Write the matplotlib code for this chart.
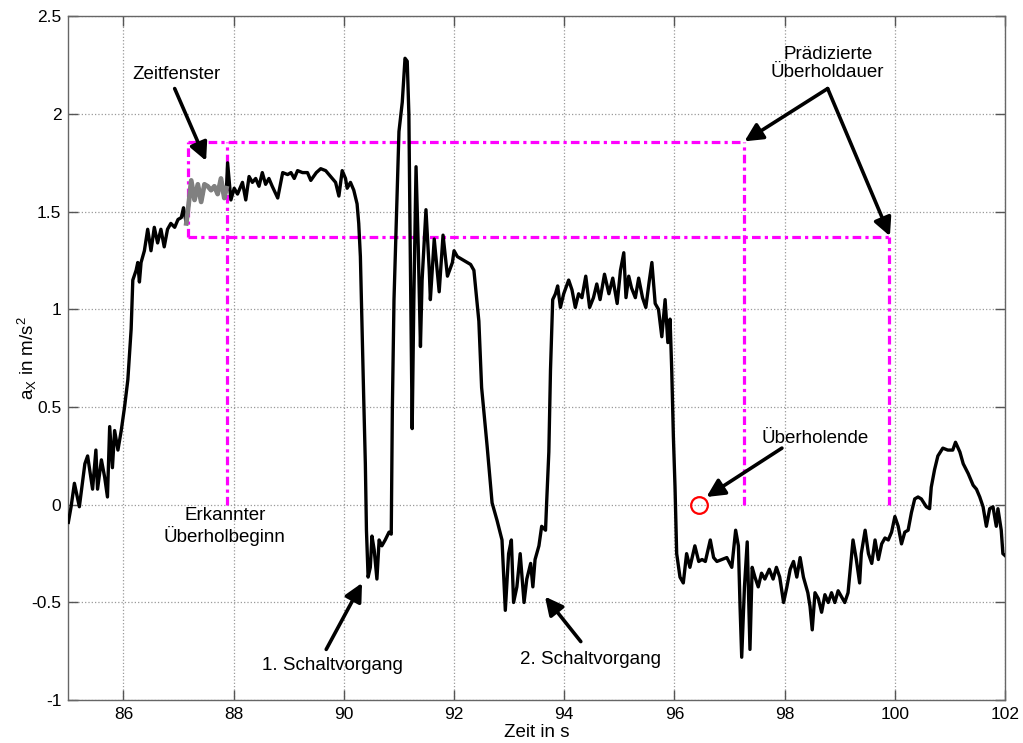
import numpy as np
import matplotlib
matplotlib.use("Agg")
import matplotlib.pyplot as plt

plt.rcParams['font.family'] = ['Liberation Sans', 'DejaVu Sans']
plt.rcParams['mathtext.default'] = 'regular'

# Laengsbeschleunigung
zeit = [
    85.00, 85.05, 85.11, 85.20, 85.30, 85.35, 85.44, 85.50, 85.53, 85.60,
    85.66, 85.71, 85.75, 85.80, 85.84, 85.90, 85.96, 86.02, 86.08, 86.14,
    86.17, 86.23, 86.26, 86.29, 86.32, 86.38, 86.44, 86.50, 86.56, 86.62,
    86.68, 86.74, 86.80, 86.86, 86.93, 86.99, 87.05, 87.09, 87.14,
    87.18, 87.23, 87.29, 87.35, 87.41, 87.47, 87.53, 87.59, 87.65, 87.71,
    87.77, 87.83, 87.87,
    87.89, 87.95, 88.01, 88.07, 88.16, 88.22, 88.28, 88.34, 88.40, 88.46,
    88.52, 88.58, 88.64, 88.70, 88.80, 88.89, 88.98, 89.04, 89.10, 89.16,
    89.25, 89.34, 89.40, 89.50, 89.58, 89.67, 89.76, 89.85, 89.91, 89.97,
    90.03, 90.06, 90.12, 90.18, 90.24, 90.27, 90.30, 90.33, 90.36, 90.39,
    90.41, 90.44, 90.48, 90.51, 90.55, 90.60, 90.64, 90.69, 90.75, 90.82,
    90.86, 90.88, 90.91, 90.94, 91.00, 91.06, 91.11, 91.15, 91.18, 91.20,
    91.24, 91.27, 91.31, 91.35, 91.39, 91.42, 91.49, 91.55, 91.57, 91.64,
    91.73, 91.80, 91.88, 91.97, 92.00, 92.06, 92.12, 92.18, 92.24, 92.30,
    92.36, 92.45, 92.50, 92.60, 92.69, 92.78, 92.87, 92.93, 92.99, 93.04,
    93.08, 93.14, 93.20, 93.27, 93.32, 93.39, 93.43, 93.47, 93.54, 93.59,
    93.66, 93.68, 93.72, 93.75, 93.79, 93.84, 93.88, 93.93, 93.99, 94.08,
    94.14, 94.20, 94.26, 94.32, 94.39, 94.46, 94.53, 94.59, 94.65, 94.73,
    94.81, 94.88, 94.96, 95.02, 95.08, 95.12, 95.17, 95.22, 95.29, 95.35,
    95.42, 95.48, 95.54, 95.59, 95.65, 95.71, 95.77, 95.83, 95.88, 95.92,
    95.95, 95.98, 96.01, 96.04, 96.10, 96.16, 96.22, 96.28, 96.37, 96.44,
    96.50, 96.56, 96.65, 96.71, 96.77, 96.86, 96.95, 97.04, 97.11, 97.16,
    97.19, 97.22, 97.27, 97.32, 97.37, 97.41, 97.46, 97.52, 97.58, 97.64,
    97.72, 97.79, 97.85, 97.91, 97.98, 98.04, 98.10, 98.16, 98.22, 98.28,
    98.34, 98.42, 98.46, 98.50, 98.55, 98.61, 98.67, 98.73, 98.79, 98.85,
    98.91, 98.97, 99.03, 99.09, 99.15, 99.24, 99.30, 99.36, 99.39, 99.46,
    99.52, 99.58, 99.64, 99.70, 99.76, 99.82, 99.88, 99.94, 100.00, 100.06,
    100.12, 100.18, 100.24, 100.30, 100.36, 100.42, 100.48, 100.57, 100.63, 100.66,
    100.72, 100.78, 100.87, 100.96, 101.05, 101.10, 101.18, 101.24, 101.33, 101.42,
    101.48, 101.54, 101.60, 101.66, 101.72, 101.78, 101.84, 101.87, 101.93, 101.96,
    102.00,
]
a_x = [
    -0.09, -0.01, 0.11, -0.01, 0.21, 0.25, 0.08, 0.28, 0.08, 0.23,
    0.14, 0.04, 0.40, 0.19, 0.38, 0.28, 0.38, 0.50, 0.64, 0.90,
    1.15, 1.20, 1.24, 1.14, 1.24, 1.30, 1.41, 1.30, 1.42, 1.34,
    1.41, 1.32, 1.41, 1.44, 1.42, 1.46, 1.47, 1.52, 1.44,
    1.53, 1.66, 1.56, 1.64, 1.55, 1.64, 1.63, 1.61, 1.63, 1.59,
    1.67, 1.57, 1.62,
    1.75, 1.56, 1.62, 1.59, 1.65, 1.56, 1.68, 1.65, 1.67, 1.63,
    1.70, 1.64, 1.67, 1.63, 1.57, 1.70, 1.69, 1.70, 1.67, 1.71,
    1.70, 1.70, 1.66, 1.70, 1.72, 1.71, 1.68, 1.65, 1.58, 1.71,
    1.67, 1.62, 1.65, 1.61, 1.54, 1.44, 1.27, 0.90, 0.55, 0.21,
    -0.13, -0.37, -0.32, -0.16, -0.23, -0.38, -0.18, -0.21, -0.18, -0.14,
    -0.15, 0.49, 1.05, 1.34, 1.91, 2.06, 2.285, 2.27, 2.00, 1.43,
    0.39, 1.05, 1.73, 1.32, 0.81, 1.15, 1.51, 1.20, 1.05, 1.36,
    1.09, 1.38, 1.17, 1.24, 1.30, 1.27, 1.26, 1.25, 1.24, 1.23,
    1.20, 0.94, 0.60, 0.30, 0.01, -0.08, -0.18, -0.54, -0.25, -0.18,
    -0.50, -0.42, -0.25, -0.50, -0.38, -0.30, -0.42, -0.28, -0.21, -0.11,
    -0.13, 0.01, 0.27, 0.69, 1.05, 1.08, 1.12, 1.01, 1.08, 1.15,
    1.10, 1.01, 1.08, 1.06, 1.17, 1.01, 1.06, 1.13, 1.05, 1.18,
    1.08, 1.16, 1.03, 1.20, 1.29, 1.06, 1.17, 1.11, 1.06, 1.16,
    1.06, 1.01, 1.14, 1.24, 1.03, 1.00, 0.86, 1.05, 0.83, 0.95,
    0.69, 0.35, 0.09, -0.25, -0.37, -0.40, -0.25, -0.32, -0.21, -0.29,
    -0.28, -0.29, -0.18, -0.27, -0.29, -0.28, -0.27, -0.32, -0.13, -0.21,
    -0.52, -0.78, -0.42, -0.19, -0.74, -0.32, -0.37, -0.42, -0.35, -0.38,
    -0.33, -0.38, -0.32, -0.37, -0.50, -0.42, -0.33, -0.29, -0.37, -0.27,
    -0.37, -0.45, -0.52, -0.64, -0.45, -0.48, -0.55, -0.46, -0.50, -0.45,
    -0.50, -0.44, -0.47, -0.50, -0.45, -0.18, -0.28, -0.40, -0.25, -0.13,
    -0.25, -0.30, -0.18, -0.28, -0.20, -0.17, -0.18, -0.14, -0.06, -0.11,
    -0.20, -0.14, -0.13, -0.04, 0.03, 0.04, 0.03, -0.01, -0.02, 0.09,
    0.18, 0.25, 0.29, 0.28, 0.28, 0.32, 0.27, 0.21, 0.16, 0.10,
    0.08, 0.04, -0.01, -0.11, -0.02, -0.01, -0.11, -0.02, -0.13, -0.25,
    -0.26,
]

# Zeitfenster und praedizierte Ueberholdauer
fenster_start = 87.18
beginn = 87.88
ende_oben = 97.26
ende_unten = 99.90
y_oben = 1.855
y_unten = 1.371
ueberholende = (96.45, 0.0)

t = np.array(zeit)
a = np.array(a_x)

fig = plt.figure(figsize=(10.23, 7.43), dpi=100)
ax = fig.add_axes([0.0668, 0.0576, 0.9157, 0.9205])

ax.plot(t, a, color='black', lw=2.4, zorder=3)
im_fenster = (t >= fenster_start - 0.04) & (t <= beginn)
ax.plot(t[im_fenster], a[im_fenster], color='#808080', lw=3.4, zorder=4)

mag = dict(color='#ff00ff', lw=2.3, dashes=(2.7, 1.3, 1, 1.3), zorder=2)
ax.plot([fenster_start, ende_oben], [y_oben, y_oben], **mag)
ax.plot([fenster_start, ende_unten], [y_unten, y_unten], **mag)
ax.plot([fenster_start, fenster_start], [y_unten, y_oben], **mag)
ax.plot([beginn, beginn], [0, y_oben], **mag)
ax.plot([ende_oben, ende_oben], [0, y_oben], **mag)
ax.plot([ende_unten, ende_unten], [0, y_unten], **mag)

ax.plot(*ueberholende, 'o', mfc='none', mec='red', ms=12, mew=1.6, zorder=5)

pfeil = dict(arrowstyle='-|>', color='black', lw=2.6, mutation_scale=27,
             shrinkA=0, shrinkB=0)
fs = 13.5
ax.text(86.96, 2.2, 'Zeitfenster', ha='center', va='center', fontsize=fs)
ax.annotate('', xy=(87.5, 1.76), xytext=(86.93, 2.13), arrowprops=pfeil)

ax.text(98.78, 2.26, 'Prädizierte\nÜberholdauer', ha='center', va='center',
        fontsize=fs, linespacing=1.1)
ax.annotate('', xy=(97.27, 1.86), xytext=(98.78, 2.13), arrowprops=pfeil)
ax.annotate('', xy=(99.91, 1.375), xytext=(98.78, 2.13), arrowprops=pfeil)

ax.text(98.56, 0.34, 'Überholende', ha='center', va='center', fontsize=fs)
ax.annotate('', xy=(96.58, 0.04), xytext=(97.95, 0.29), arrowprops=pfeil)

ax.text(87.84, -0.11, 'Erkannter\nÜberholbeginn', ha='center', va='center',
        fontsize=fs, linespacing=1.1)

ax.text(89.8, -0.82, '1. Schaltvorgang', ha='center', va='center', fontsize=fs)
ax.annotate('', xy=(90.33, -0.40), xytext=(89.68, -0.74), arrowprops=pfeil)

ax.text(94.47, -0.79, '2. Schaltvorgang', ha='center', va='center', fontsize=fs)
ax.annotate('', xy=(93.65, -0.47), xytext=(94.3, -0.70), arrowprops=pfeil)

ax.set_xlim(85, 102)
ax.set_ylim(-1, 2.5)
ax.set_xticks(np.arange(86, 103, 2))
ax.set_yticks([-1, -0.5, 0, 0.5, 1, 1.5, 2, 2.5])
ax.set_yticklabels(['-1', '-0.5', '0', '0.5', '1', '1.5', '2', '2.5'])
ax.grid(True, linestyle=':', color='#999999', lw=0.9)
ax.tick_params(direction='in', length=7, width=1, top=True, right=True,
               labelsize=12.5, color='#555555', pad=5)
for s in ax.spines.values():
    s.set_color('#666666')
    s.set_linewidth(1.0)

ax.set_xlabel('Zeit in s', fontsize=13.5, labelpad=1)
ax.set_ylabel('a$_X$ in m/s$^2$', fontsize=13.5)
ax.yaxis.set_label_coords(-0.031, 0.5)

fig.savefig('out.png', dpi=100)
